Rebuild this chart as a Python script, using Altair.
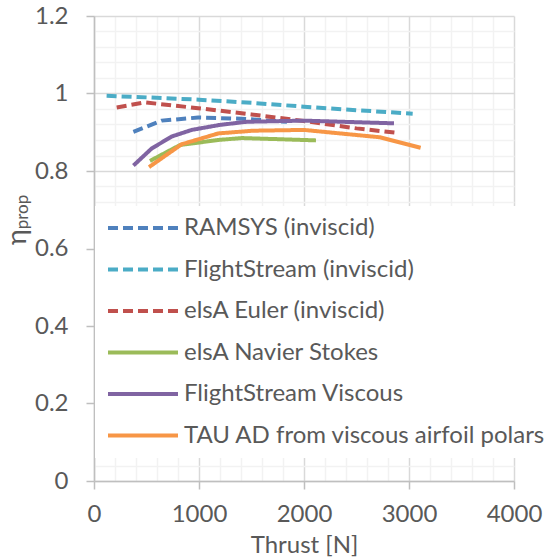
import altair as alt
import pandas as pd

series_names = [
    "RAMSYS (inviscid)",
    "FlightStream (inviscid)",
    "elsA Euler (inviscid)",
    "elsA Navier Stokes",
    "FlightStream Viscous",
    "TAU AD from viscous airfoil polars",
]
series_colors = ["#4F81BD", "#4BACC6", "#C0504D", "#9BBB59", "#8064A2", "#F79646"]
series_dashed = [True, True, True, False, False, False]

ramsys_x = [375, 644, 993, 1400, 1838]
ramsys_y = [0.901, 0.930, 0.938, 0.935, 0.927]

fs_inv_x = [120, 500, 1000, 1500, 2000, 2500, 3035]
fs_inv_y = [0.994, 0.990, 0.984, 0.976, 0.966, 0.957, 0.948]

euler_x = [216, 486, 993, 1500, 2000, 2500, 2867]
euler_y = [0.964, 0.977, 0.962, 0.946, 0.929, 0.910, 0.899]

ns_x = [533, 819, 1181, 1406, 1771, 2114]
ns_y = [0.826, 0.867, 0.880, 0.885, 0.882, 0.879]

fs_visc_x = [375, 549, 740, 930, 1200, 1454, 2000, 2857]
fs_visc_y = [0.814, 0.858, 0.889, 0.906, 0.919, 0.927, 0.930, 0.923]

tau_x = [524, 835, 1184, 1517, 2000, 2724, 3111]
tau_y = [0.810, 0.869, 0.897, 0.904, 0.906, 0.887, 0.860]

all_x = [ramsys_x, fs_inv_x, euler_x, ns_x, fs_visc_x, tau_x]
all_y = [ramsys_y, fs_inv_y, euler_y, ns_y, fs_visc_y, tau_y]

rows = []
for name, xs, ys in zip(series_names, all_x, all_y):
    for i, (xv, yv) in enumerate(zip(xs, ys)):
        rows.append({"series": name, "thrust": xv, "eta": yv, "order": i})
df = pd.DataFrame(rows)

x_values = [i * 200 for i in range(21)]
y_values = [round(i * 0.04, 2) for i in range(31)]

FONT = "Lato"
TXT = "#595959"

x_axis = alt.Axis(
    values=x_values,
    labelExpr="datum.value % 1000 === 0 ? datum.label : ''",
    format="d",
    gridColor={"condition": {"test": "datum.value % 1000 === 0", "value": "#d9d9d9"}, "value": "#f2f2f2"},
    gridWidth=1.5,
    tickOpacity={"condition": {"test": "datum.value % 1000 === 0", "value": 1}, "value": 0},
    tickColor="#bfbfbf",
    tickSize=8,
    tickWidth=1.5,
    domainColor="#bfbfbf",
    domainWidth=1.5,
    labelFont=FONT,
    labelFontSize=24,
    labelColor=TXT,
    labelPadding=13,
    title="Thrust [N]",
    titleFont=FONT,
    titleFontSize=24,
    titleFontWeight="normal",
    titleColor=TXT,
    titlePadding=7,
    labelFlush=False,
    labelOverlap=False,
)

y_test = "abs(datum.value*5 - round(datum.value*5)) < 1e-6"
y_axis = alt.Axis(
    values=y_values,
    labelExpr=f"{y_test} ? format(datum.value, '~g') : ''",
    gridColor={"condition": {"test": y_test, "value": "#d9d9d9"}, "value": "#f2f2f2"},
    gridWidth=1.5,
    tickOpacity={"condition": {"test": y_test, "value": 1}, "value": 0},
    tickColor="#bfbfbf",
    tickSize=8,
    tickWidth=1.5,
    domainColor="#bfbfbf",
    domainWidth=1.5,
    labelFont=FONT,
    labelFontSize=24,
    labelColor=TXT,
    labelPadding=18,
    title=None,
    labelFlush=False,
    labelOverlap=False,
)

lines = alt.Chart(df).mark_line(strokeWidth=4, strokeCap="butt", strokeJoin="round").encode(
    x=alt.X("thrust:Q", scale=alt.Scale(domain=[0, 4000], nice=False), axis=x_axis),
    y=alt.Y("eta:Q", scale=alt.Scale(domain=[0, 1.2], nice=False), axis=y_axis),
    order="order:O",
    color=alt.Color(
        "series:N",
        scale=alt.Scale(domain=series_names, range=series_colors),
        sort=series_names,
        legend=alt.Legend(
            title=None,
            orient="none",
            legendX=1,
            legendY=190,
            fillColor="white",
            padding=10,
            symbolType="M-3.5,0H3.5",
            symbolSize=400,
            symbolStrokeWidth=4,
            symbolFillColor="transparent",
            symbolOffset=26,
            labelFont=FONT,
            labelFontSize=24,
            labelColor=TXT,
            labelLimit=500,
            rowPadding=17.5,
            labelOffset=29,
        ),
    ),
    strokeDash=alt.StrokeDash(
        "series:N",
        scale=alt.Scale(
            domain=series_names,
            range=[[10, 5] if d else [1, 0] for d in series_dashed],
        ),
        sort=series_names,
        legend=None,
    ),
)

title_df = pd.DataFrame({"t": ["η"]})
eta = alt.Chart(title_df).mark_text(
    angle=270, font=FONT, fontSize=27, color=TXT, align="center", baseline="middle"
).encode(x=alt.value(-76), y=alt.value(221), text="t:N")
sub_df = pd.DataFrame({"t": ["prop"]})
sub = alt.Chart(sub_df).mark_text(
    angle=270, font=FONT, fontSize=17, color=TXT, align="center", baseline="middle"
).encode(x=alt.value(-71), y=alt.value(196), text="t:N")

chart = alt.layer(lines, eta, sub).properties(
    width=420,
    height=465,
    autosize=alt.AutoSizeParams(type="none"),
    padding={"left": 94, "top": 16, "right": 38, "bottom": 79},
).configure_view(stroke=None)

chart.save("out.html", embed_options={"renderer": "svg", "actions": False})
